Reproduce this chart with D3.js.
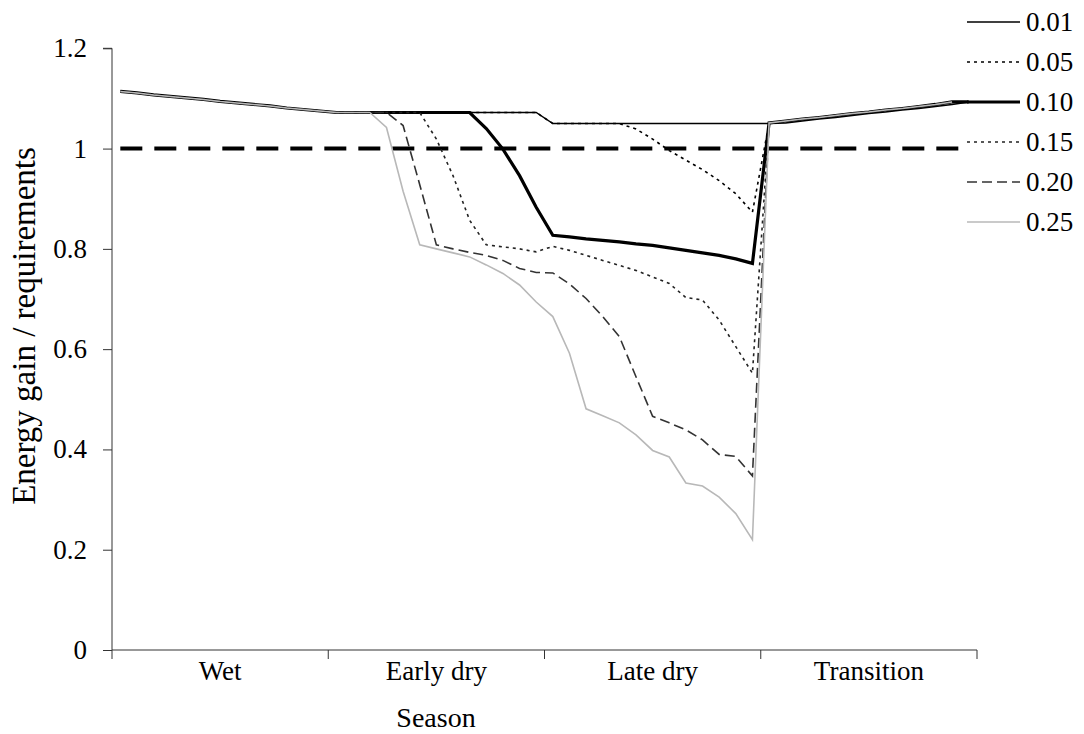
<!DOCTYPE html>
<html>
<head>
<meta charset="utf-8">
<script src="https://cdn.jsdelivr.net/npm/d3@7"></script>
</head>
<body style="margin:0">
<svg id="chart" width="1084" height="734"></svg>
<script>
// ---------------- data ----------------
const seasons = ["Wet", "Early dry", "Late dry", "Transition"];
const yTicks = [0, 0.2, 0.4, 0.6, 0.8, 1, 1.2];
const seriesNames = ["0.01", "0.05", "0.10", "0.15", "0.20", "0.25"];

// 52 weekly values (13 per season)
const wet = [1.114, 1.111, 1.107, 1.104, 1.101, 1.098, 1.094, 1.091, 1.088, 1.085, 1.081, 1.078, 1.075];
const transition = [1.051, 1.055, 1.059, 1.062, 1.066, 1.070, 1.073, 1.077, 1.080, 1.084, 1.088, 1.093];

const dry001 = [1.072, 1.072, 1.072, 1.072, 1.072, 1.072, 1.072, 1.072, 1.072, 1.072, 1.072, 1.072, 1.072,
                1.050, 1.050, 1.050, 1.050, 1.050, 1.050, 1.050, 1.050, 1.050, 1.050, 1.050, 1.050, 1.050, 1.050];
const dry005 = [1.072, 1.072, 1.072, 1.072, 1.072, 1.072, 1.072, 1.072, 1.072, 1.072, 1.072, 1.072, 1.072,
                1.050, 1.050, 1.050, 1.050, 1.050, 1.039, 1.019, 0.996, 0.977, 0.958, 0.936, 0.910, 0.873];
const dry010 = [1.072, 1.072, 1.072, 1.072, 1.072, 1.072, 1.072, 1.072, 1.072, 1.040, 0.999, 0.946, 0.883,
                0.827, 0.824, 0.820, 0.817, 0.814, 0.810, 0.807, 0.802, 0.797, 0.792, 0.787, 0.780, 0.771];
const dry015 = [1.072, 1.072, 1.072, 1.072, 1.072, 1.072, 1.019, 0.946, 0.857, 0.808, 0.804, 0.800, 0.794,
                0.805, 0.797, 0.787, 0.777, 0.767, 0.757, 0.744, 0.731, 0.703, 0.698, 0.658, 0.605, 0.552];
const dry020 = [1.072, 1.072, 1.072, 1.072, 1.046, 0.928, 0.808, 0.800, 0.793, 0.787, 0.777, 0.761, 0.753,
                0.752, 0.730, 0.701, 0.665, 0.625, 0.545, 0.466, 0.453, 0.439, 0.419, 0.390, 0.386, 0.347];
const dry025 = [1.072, 1.072, 1.072, 1.042, 0.915, 0.808, 0.800, 0.792, 0.784, 0.768, 0.751, 0.728, 0.694,
                0.665, 0.592, 0.481, 0.467, 0.453, 0.429, 0.398, 0.385, 0.333, 0.327, 0.305, 0.272, 0.220];

const lastWeek010 = [1.093];
const lastWeekOthers = [null];

const s001 = wet.concat(dry001, transition, lastWeekOthers);
const s005 = wet.concat(dry005, transition, lastWeekOthers);
const s010 = wet.concat(dry010, transition, lastWeek010);
const s015 = wet.concat(dry015, transition, lastWeekOthers);
const s020 = wet.concat(dry020, transition, lastWeekOthers);
const s025 = wet.concat(dry025, transition, lastWeekOthers);
const seriesValues = [s001, s005, s010, s015, s020, s025];

const threshold = 1; // requirement line
const nWeeks = 52;

// ---------------- styles ----------------
const FONT_ATTR = "Liberation Serif";
const FS = 27;
const styles = [
  { color: "#000", width: 1.4, dash: null },
  { color: "#000", width: 1.6, dash: "3,4" },
  { color: "#000", width: 3.2, dash: null },
  { color: "#222", width: 1.6, dash: "3,4" },
  { color: "#333", width: 1.6, dash: "10,5" },
  { color: "#b8b8b8", width: 1.6, dash: null }
];

// ---------------- layout ----------------
const svg = d3.select("#chart");
const plotL = 112, plotR = 977, plotT = 48.3, plotB = 650;

const x = d3.scaleLinear().domain([0, nWeeks]).range([plotL, plotR]);
const xBand = d3.scaleBand().domain(seasons).range([plotL, plotR]);
const y = d3.scaleLinear().domain([0, 1.2]).range([plotB, plotT]);

function styleText(sel, size) {
  const s = size || FS;
  return sel.attr("font-family", FONT_ATTR).attr("font-size", s)
    .style("font", `${s}px '${FONT_ATTR}', 'Tinos', 'Times New Roman', serif`).attr("fill", "#000");
}
// places a text through a transform (same path as the rotated title)
function placeText(sel, tx, ty, rot) {
  return sel.attr("transform", `translate(${tx},${ty}) rotate(${rot})`);
}

// threshold line
const thrData = d3.range(nWeeks).map(i => ({ i, v: threshold }));
svg.append("path").datum(thrData)
  .attr("fill", "none").attr("stroke", "#000").attr("stroke-width", 4).attr("stroke-dasharray", "22,12")
  .attr("d", d3.line().x(d => x(d.i + 0.5)).y(d => y(d.v)));

// series lines
const line = d3.line().defined(d => d.v != null).x(d => x(d.i + 0.5)).y(d => y(d.v));
seriesValues.forEach((vals, k) => {
  const data = vals.map((v, i) => ({ i, v }));
  svg.append("path").datum(data)
    .attr("fill", "none")
    .attr("stroke", styles[k].color)
    .attr("stroke-width", styles[k].width)
    .attr("stroke-dasharray", styles[k].dash)
    .attr("stroke-linejoin", "miter")
    .attr("d", line);
});

// y axis (line and ticks from the axis generator, labels as own texts)
const yAxis = d3.axisLeft(y).tickValues(yTicks).tickSize(9).tickFormat("");
const gy = svg.append("g").attr("transform", `translate(${plotL},0)`).call(yAxis);
gy.select(".domain").attr("stroke", "#333").attr("d", `M-9,${plotT}H0V${plotB}`);
gy.selectAll(".tick line").attr("stroke", "#333");
gy.selectAll(".tick text").remove();
const yFmt = d => d === 0 ? "0" : (d === 1 ? "1" : d3.format(".1f")(d));
yTicks.forEach(t => {
  placeText(styleText(svg.append("text").attr("text-anchor", "end").text(yFmt(t))), plotL - 25, y(t) + 9, 0.01);
});

// x axis
const gx = svg.append("g").attr("transform", `translate(0,${plotB})`);
gx.append("line").attr("x1", plotL).attr("x2", plotR).attr("y1", 0).attr("y2", 0).attr("stroke", "#333");
const bounds = seasons.map(s => xBand(s)).concat([plotR]);
gx.selectAll("line.tk").data(bounds).join("line").attr("class", "tk")
  .attr("x1", d => d).attr("x2", d => d).attr("y1", 0).attr("y2", 9).attr("stroke", "#333");
seasons.forEach(s => {
  placeText(styleText(svg.append("text").attr("text-anchor", "middle").text(s)),
    xBand(s) + xBand.bandwidth() / 2, plotB + 30, 0.01);
});

// axis titles
placeText(styleText(svg.append("text").attr("text-anchor", "middle").text("Season"), 28), 436, 727, 0.01);
placeText(styleText(svg.append("text").attr("text-anchor", "middle").text("Energy gain / requirements"), 33), 35, 326, -90);

// legend
const lg = svg.append("g");
seriesNames.forEach((name, k) => {
  const cy = 22 + k * 40;
  lg.append("line").attr("x1", 967).attr("x2", 1020).attr("y1", cy).attr("y2", cy)
    .attr("stroke", styles[k].color).attr("stroke-width", styles[k].width)
    .attr("stroke-dasharray", styles[k].dash);
  placeText(styleText(lg.append("text").text(name)), 1026, cy + 9, 0.01);
});
</script>
</body>
</html>
